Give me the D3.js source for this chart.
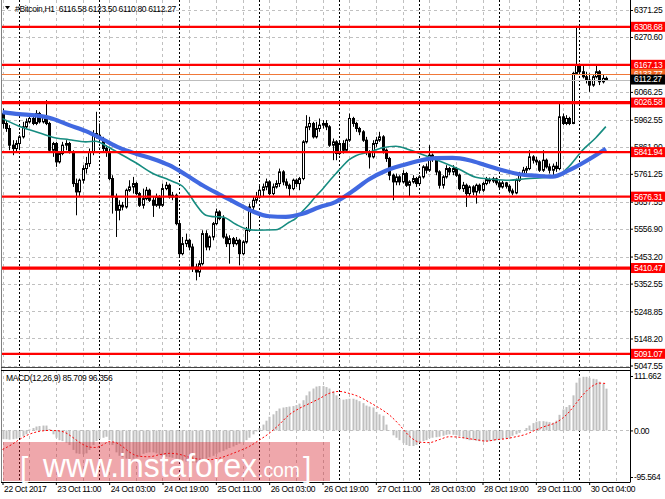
<!DOCTYPE html>
<html><head><meta charset="utf-8">
<script src="https://cdn.jsdelivr.net/npm/d3@7"></script>
<style>
html,body{margin:0;padding:0;background:#fff;}
svg{display:block;}
text{font-family:"Liberation Sans",Arial,sans-serif;}
.sm{font-size:8.5px;letter-spacing:-0.35px;}
</style></head><body>
<svg id="c" width="665" height="499"></svg>
<script>
// ---------------- DATA ----------------
const headerText = "#Bitcoin,H1  6116.58 6123.50 6110.80 6112.27";
const macdText = "MACD(12,26,9) 85.709 96.356";

const opens = [5986.0,5948.7,5930.0,5867.9,5855.4,5874.1,5898.9,5936.2,5954.9,5967.3,
5948.7,5986.0,5954.9,5973.5,5948.7,5849.2,5874.1,5805.7,5836.8,5867.9,
5874.1,5843.0,5725.0,5693.9,5737.4,5780.9,5799.5,5843.0,5911.4,5905.2,
5892.7,5855.4,5843.0,5743.6,5675.2,5625.5,5644.2,5637.9,5700.1,5712.5,
5725.0,5687.7,5644.2,5669.0,5700.1,5662.8,5644.2,5675.2,5644.2,5706.3,
5718.7,5675.2,5681.5,5575.8,5464.0,5501.2,5513.7,5488.8,5414.2,5395.6,
5426.7,5538.6,5488.8,5526.1,5575.8,5619.3,5594.5,5526.1,5501.2,5519.9,
5501.2,5513.7,5464.0,5507.5,5551.0,5637.9,5662.8,5675.2,5700.1,5712.5,
5731.2,5687.7,5712.5,5725.0,5768.5,5731.2,5718.7,5706.3,5737.4,5725.0,
5743.6,5880.3,5936.2,5948.7,5898.9,5930.0,5942.5,5948.7,5936.2,5867.9,
5880.3,5836.8,5874.1,5849.2,5886.5,5967.3,5948.7,5930.0,5917.6,5886.5,
5843.0,5824.4,5874.1,5886.5,5898.9,5849.2,5818.2,5756.0,5731.2,5749.8,
5731.2,5762.2,5718.7,5731.2,5743.6,5725.0,5749.8,5787.1,5774.7,5830.6,
5818.2,5768.5,5718.7,5749.8,5780.9,5768.5,5780.9,5756.0,5706.3,5718.7,
5687.7,5712.5,5693.9,5718.7,5700.1,5725.0,5739.9,5734.9,5742.4,5727.5,
5712.5,5727.5,5715.0,5697.6,5690.2,5737.4,5762.2,5774.7,5780.9,5824.4,
5812.0,5805.7,5774.7,5812.0,5787.1,5774.7,5789.6,5780.9,5973.5,5948.7,
5967.3,5948.7,6135.1,6166.2,6141.3,6122.7,6110.2,6091.6,6122.7,6141.3,
6104.0,6116.58];
const highs = [6004.6,5961.1,5942.5,5886.5,5886.5,5905.2,5954.9,5967.3,5979.7,5973.5,
5998.4,5992.2,5979.7,6035.7,5954.9,5880.3,5880.3,5843.0,5880.3,5886.5,
5880.3,5849.2,5743.6,5743.6,5793.3,5824.4,5855.4,5923.8,5992.2,5948.7,
5898.9,5867.9,5855.4,5756.0,5687.7,5662.8,5656.6,5706.3,5737.4,5749.8,
5731.2,5693.9,5706.3,5712.5,5706.3,5675.2,5687.7,5681.5,5725.0,5731.2,
5725.0,5693.9,5687.7,5588.2,5526.1,5538.6,5519.9,5501.2,5426.7,5439.1,
5551.0,5551.0,5532.4,5582.0,5631.7,5625.5,5606.9,5538.6,5532.4,5526.1,
5526.1,5519.9,5513.7,5563.4,5650.4,5675.2,5693.9,5718.7,5725.0,5743.6,
5737.4,5725.0,5737.4,5780.9,5774.7,5743.6,5725.0,5743.6,5743.6,5749.8,
5886.5,5979.7,5973.5,5954.9,5954.9,5967.3,5961.1,5961.1,5942.5,5892.7,
5886.5,5886.5,5886.5,5892.7,5986.0,5973.5,5954.9,5936.2,5923.8,5898.9,
5849.2,5886.5,5898.9,5917.6,5905.2,5855.4,5824.4,5762.2,5762.2,5756.0,
5774.7,5768.5,5737.4,5756.0,5749.8,5756.0,5793.3,5799.5,5867.9,5836.8,
5824.4,5774.7,5756.0,5793.3,5787.1,5793.3,5787.1,5762.2,5731.2,5725.0,
5718.7,5718.7,5725.0,5725.0,5731.2,5749.8,5747.4,5749.8,5747.4,5734.9,
5734.9,5731.2,5722.5,5706.3,5743.6,5768.5,5787.1,5789.6,5849.2,5830.6,
5824.4,5812.0,5849.2,5818.2,5799.5,5799.5,5805.7,6023.2,5986.0,5979.7,
5973.5,6141.3,6312.0,6172.4,6166.2,6141.3,6135.1,6129.0,6166.2,6147.5,
6129.0,6123.50];
const lows = [5930.0,5917.6,5849.2,5830.6,5843.0,5849.2,5892.7,5930.0,5948.7,5942.5,
5942.5,5948.7,5948.7,5942.5,5843.0,5824.4,5787.1,5799.5,5830.6,5849.2,
5836.8,5712.5,5606.9,5675.2,5725.0,5762.2,5787.1,5830.6,5892.7,5880.3,
5843.0,5824.4,5737.4,5613.1,5526.1,5588.2,5625.5,5631.7,5693.9,5687.7,
5681.5,5637.9,5631.7,5662.8,5656.6,5600.7,5637.9,5631.7,5637.9,5700.1,
5669.0,5662.8,5569.6,5451.5,5457.8,5488.8,5476.4,5395.6,5364.5,5377.0,
5420.5,5476.4,5476.4,5513.7,5569.6,5588.2,5519.9,5488.8,5426.7,5488.8,
5495.0,5420.5,5457.8,5501.2,5544.8,5625.5,5650.4,5669.0,5675.2,5700.1,
5681.5,5681.5,5706.3,5712.5,5718.7,5706.3,5675.2,5700.1,5712.5,5700.1,
5737.4,5874.1,5923.8,5892.7,5892.7,5917.6,5930.0,5923.8,5861.7,5812.0,
5812.0,5830.6,5836.8,5843.0,5880.3,5936.2,5917.6,5905.2,5880.3,5830.6,
5780.9,5818.2,5861.7,5880.3,5836.8,5805.7,5737.4,5662.8,5718.7,5718.7,
5725.0,5712.5,5675.2,5725.0,5712.5,5718.7,5743.6,5762.2,5768.5,5805.7,
5756.0,5706.3,5706.3,5743.6,5756.0,5756.0,5749.8,5700.1,5693.9,5637.9,
5675.2,5681.5,5650.4,5687.7,5693.9,5718.7,5725.0,5727.5,5718.7,5702.6,
5706.3,5706.3,5690.2,5681.5,5685.2,5731.2,5756.0,5762.2,5774.7,5799.5,
5793.3,5768.5,5768.5,5780.9,5762.2,5756.0,5768.5,5774.7,5942.5,5942.5,
5942.5,5946.2,6128.9,6135.1,6116.5,6097.8,6066.7,6085.4,6116.5,6091.6,
6097.8,6110.80];
const closes = [5948.7,5930.0,5867.9,5855.4,5874.1,5898.9,5936.2,5954.9,5967.3,5948.7,
5986.0,5954.9,5973.5,5948.7,5849.2,5874.1,5805.7,5836.8,5867.9,5874.1,
5843.0,5725.0,5693.9,5737.4,5780.9,5799.5,5843.0,5911.4,5905.2,5892.7,
5855.4,5843.0,5743.6,5675.2,5625.5,5644.2,5637.9,5700.1,5712.5,5725.0,
5687.7,5644.2,5669.0,5700.1,5662.8,5644.2,5675.2,5644.2,5706.3,5718.7,
5675.2,5681.5,5575.8,5464.0,5501.2,5513.7,5488.8,5414.2,5395.6,5426.7,
5538.6,5488.8,5526.1,5575.8,5619.3,5594.5,5526.1,5501.2,5519.9,5501.2,
5513.7,5464.0,5507.5,5551.0,5637.9,5662.8,5675.2,5700.1,5712.5,5731.2,
5687.7,5712.5,5725.0,5768.5,5731.2,5718.7,5706.3,5737.4,5725.0,5743.6,
5880.3,5936.2,5948.7,5898.9,5930.0,5942.5,5948.7,5936.2,5867.9,5880.3,
5836.8,5874.1,5849.2,5886.5,5967.3,5948.7,5930.0,5917.6,5886.5,5843.0,
5824.4,5874.1,5886.5,5898.9,5849.2,5818.2,5756.0,5731.2,5749.8,5731.2,
5762.2,5718.7,5731.2,5743.6,5725.0,5749.8,5787.1,5774.7,5830.6,5818.2,
5768.5,5718.7,5749.8,5780.9,5768.5,5780.9,5756.0,5706.3,5718.7,5687.7,
5712.5,5693.9,5718.7,5700.1,5725.0,5739.9,5734.9,5742.4,5727.5,5712.5,
5727.5,5715.0,5697.6,5690.2,5737.4,5762.2,5774.7,5780.9,5824.4,5812.0,
5805.7,5774.7,5812.0,5787.1,5774.7,5789.6,5780.9,5973.5,5948.7,5967.3,
5948.7,6135.1,6166.2,6141.3,6122.7,6110.2,6091.6,6122.7,6141.3,6104.0,
6116.6,6112.27];

// moving averages: [bar index, price]
const blueMA = [[0,5990.9],[5,5983.5],[10,5978.6],[15,5966.7],[20,5942.5],[25,5920.1],[30,5890.3],
[35,5858.6],[40,5836.2],[45,5817.6],[50,5793.3],[55,5757.9],[60,5718.7],[65,5685.2],[70,5653.5],
[75,5621.8],[80,5603.2],[85,5601.3],[90,5612.5],[95,5636.7],[100,5657.2],[105,5696.4],[110,5741.1],
[115,5772.8],[120,5793.3],[125,5810.1],[130,5819.4],[135,5820.5],[140,5811.9],[145,5793.3],
[150,5774.7],[155,5759.8],[160,5754.2],[165,5750.5],[170,5774.7],[175,5808.2],[181,5854.8]];
const tealMA = [[0,5966.7],[5,5938.7],[10,5918.2],[15,5897.7],[20,5888.4],[25,5880.2],[28,5882.8],
[31,5866.0],[35,5838.0],[40,5802.6],[45,5763.5],[50,5738.5],[52,5728.0],[54,5715.0],[56,5685.2],
[58,5647.9],[61,5606.9],[63,5602.0],[66,5600.6],[70,5573.3],[73,5556.5],[76,5551.0],[82,5552.8],
[86,5580.8],[88,5595.7],[90,5621.8],[92,5647.9],[94,5677.7],[96,5703.8],[98,5733.7],[100,5761.6],
[102,5789.6],[104,5813.8],[106,5828.7],[110,5841.8],[114,5858.6],[118,5864.2],[122,5851.1],
[127,5828.7],[132,5804.5],[137,5778.4],[142,5748.5],[147,5741.1],[152,5737.4],[157,5743.0],
[162,5746.7],[166,5750.5],[170,5789.6],[174,5849.2],[178,5895.8],[181,5936.9]];

const macdHist = [-18,-18,-19,-18,-17,-15,-12,-8,2,5,8,9,10,10,
3,-8,-15,-20,-22,-25,-30,
-40,-47,-48,-49,-47,-40,-30,-22,-18,-15,-13,
-20,-30,-45,-52,-55,-58,-59,-58,-56,-54,
-48,-46,-45,-45,-47,-50,-53,-54,-55,-56,
-58,-60,-62,-64,-65,-66,-66,-65,-62,-58,
-55,-52,-48,-45,-42,-39,-36,-33,-30,-27,-24,-20,-15,-8,-2,
5,12,20,28,33,40,45,47,48,49,50,52,55,
62,72,80,86,90,91,91,89,86,80,72,65,
63,64,65,65,63,60,56,51,49,47,
38,33,30,12,-1,
-10,-15,-20,-26,-30,-32,-32,-30,-25,-22,-20,
-16,-15,-14,-13,-11,-9,-8,-9,-10,-12,
-16,-18,-20,-20,-21,-22,-23,-22,-22,-21,-20,-19,-18,-17,-16,
-11,-8,-5,0,5,10,15,18,19,19,18,17,16,
20,32,43,48,52,72,98,108,110,110,108,106,105,100,96,85.709];
const macdSignal = [[0,-39],[3,-28],[5,-19],[8,-8],[11,-2],[14,0],[17,-1],[19,-5],[21,-14],[23,-24],
[26,-34],[28,-35],[30,-30],[32,-23],[34,-25],[36,-33],[38,-44],[41,-53],[44,-54],[47,-50],[50,-47],
[53,-49],[56,-55],[59,-59],[62,-60],[65,-57],[68,-50],[71,-42],[74,-33],[77,-20],[80,-6],[83,12],
[86,32],[89,45],[92,55],[95,65],[98,76],[101,80],[104,76],[107,69],[110,58],[113,46],[116,32],
[119,12],[121,-4],[123,-17],[125,-24],[128,-25],[131,-19],[134,-13],[137,-14],[140,-17],[143,-20],
[145,-22],[148,-19],[151,-17],[154,-13],[157,-8],[160,1],[163,9],[166,16],[168,25],[170,38],
[172,55],[174,72],[176,86],[178,95],[179,97],[181,96.356]];

const priceTicks = [6371.25,6270.60,6169.95,6066.25,5962.55,5861.90,5761.25,5657.55,5556.90,5453.20,5352.55,5248.85,5148.20,5047.55];
const hiddenTickLabels = [6169.95];
const macdTicks = [111.662, 0, -95.564];
const macdTickLabels = ["111.662","0.00","-95.564"];
const levels = [6308.68,6167.13,6026.58,5841.94,5676.31,5410.47,5091.07];
const askPrice = 6133.77, bidPrice = 6112.27;
const timeLabels = ["22 Oct 2017","23 Oct 11:00","24 Oct 03:00","24 Oct 19:00","25 Oct 11:00","26 Oct 03:00",
"26 Oct 19:00","27 Oct 11:00","28 Oct 03:00","28 Oct 19:00","29 Oct 11:00","30 Oct 04:00"];
const timeLabelBars = [0,16,32,48,64,80,96,112,128,144,160,176];
const gridBars = d3.range(0,188,8);
const separatorBars = [5,29,53,77,101,125,149,173];

// ---------------- DRAW ----------------
const svg = d3.select("#c");
const PL=2, PR=630, MT=0, MB=368, ST=370, SB=482;
const x = d3.scaleLinear().domain([-0.15, 188.25]).range([PL, PR]);
const y = d3.scaleLinear().domain([5047.55, 6371.25]).range([365.5, 10]);
const ym = d3.scaleLinear().domain([-95.564, 111.662]).range([477, 376]);
const px = i => Math.round(x(i));

const defs = svg.append("defs");
defs.append("clipPath").attr("id","cm").append("rect").attr("x",PL).attr("y",MT).attr("width",PR-PL).attr("height",MB-MT);
defs.append("clipPath").attr("id","cs").append("rect").attr("x",PL).attr("y",ST).attr("width",PR-PL).attr("height",SB-ST);

const gMain = svg.append("g").attr("clip-path","url(#cm)");
const gSub = svg.append("g").attr("clip-path","url(#cs)");

// grids
[[gMain,MT,MB],[gSub,ST,SB]].forEach(([g,t,b])=>{
  g.selectAll(null).data(gridBars).enter().append("line")
   .attr("x1",d=>px(d)+0.5).attr("x2",d=>px(d)+0.5).attr("y1",t).attr("y2",b)
   .attr("stroke","#c0c0c0").attr("stroke-dasharray","3,3");
  g.selectAll(null).data(separatorBars).enter().append("line")
   .attr("x1",d=>px(d)+0.5).attr("x2",d=>px(d)+0.5).attr("y1",t).attr("y2",b)
   .attr("stroke","#000").attr("stroke-dasharray","2,2");
});
gMain.selectAll(null).data(priceTicks).enter().append("line")
  .attr("x1",PL).attr("x2",PR).attr("y1",d=>Math.round(y(d))+0.5).attr("y2",d=>Math.round(y(d))+0.5)
  .attr("stroke","#c0c0c0").attr("stroke-dasharray","3,3");

// candles
const idx = d3.range(closes.length);
gMain.selectAll(null).data(idx).enter().append("line")
  .attr("x1",i=>px(i)+0.5).attr("x2",i=>px(i)+0.5)
  .attr("y1",i=>y(highs[i])).attr("y2",i=>y(lows[i]))
  .attr("stroke","#000").attr("stroke-width",1);
gMain.selectAll(null).data(idx).enter().append("rect")
  .attr("x",i=>px(i)-0.5).attr("width",2)
  .attr("y",i=>y(Math.max(opens[i],closes[i])))
  .attr("height",i=>Math.max(0.8,Math.abs(y(opens[i])-y(closes[i]))))
  .attr("fill",i=>closes[i]>=opens[i]?"#fff":"#000")
  .attr("stroke","#000").attr("stroke-width",1);

// moving averages
const maLine = d3.line().x(d=>x(d[0])).y(d=>y(d[1])).curve(d3.curveMonotoneX);
gMain.append("path").attr("d",maLine(tealMA)).attr("fill","none").attr("stroke","#168c80").attr("stroke-width",1.6);
gMain.append("path").attr("d",maLine(blueMA)).attr("fill","none").attr("stroke","#4169e1").attr("stroke-width",4.2).attr("stroke-linejoin","round");

// bid / ask lines
gMain.append("line").attr("x1",PL).attr("x2",PR).attr("y1",Math.round(y(askPrice))+0.5).attr("y2",Math.round(y(askPrice))+0.5)
  .attr("stroke","#f07838").attr("stroke-width",1);
gMain.append("line").attr("x1",PL).attr("x2",PR).attr("y1",Math.round(y(bidPrice))+0.5).attr("y2",Math.round(y(bidPrice))+0.5)
  .attr("stroke","#bdbdbd").attr("stroke-width",1);

// horizontal levels
const thickLevels = new Set([6026.58,5410.47]);
gMain.selectAll(null).data(levels).enter().append("line")
  .attr("x1",PL).attr("x2",PR).attr("y1",d=>y(d)).attr("y2",d=>y(d))
  .attr("stroke","#ff0000").attr("stroke-width",d=>thickLevels.has(d)?3.2:2.2);

// MACD
const z0 = ym(0);
gSub.append("line").attr("x1",PL).attr("x2",PR).attr("y1",Math.round(z0)+0.5).attr("y2",Math.round(z0)+0.5)
  .attr("stroke","#c0c0c0").attr("stroke-dasharray","3,3");
gSub.selectAll(null).data(macdHist).enter().append("rect")
  .attr("x",(d,i)=>px(i)-0.5).attr("width",2)
  .attr("y",d=>Math.min(ym(d),z0)).attr("height",d=>Math.abs(ym(d)-z0))
  .attr("fill","#c0c0c0");
gSub.append("path").attr("d",d3.line().x(d=>x(d[0])).y(d=>ym(d[1])).curve(d3.curveMonotoneX)(macdSignal))
  .attr("fill","none").attr("stroke","#ff0000").attr("stroke-width",1).attr("stroke-dasharray","2,2");

// frames
svg.append("line").attr("x1",1.5).attr("x2",1.5).attr("y1",0).attr("y2",SB).attr("stroke","#808080");
svg.append("line").attr("x1",PR+0.5).attr("x2",PR+0.5).attr("y1",0).attr("y2",SB+0.5).attr("stroke","#000");
svg.append("line").attr("x1",1).attr("x2",PR).attr("y1",MB-0.5).attr("y2",MB-0.5).attr("stroke","#444");
svg.append("line").attr("x1",1).attr("x2",PR).attr("y1",ST+0.5).attr("y2",ST+0.5).attr("stroke","#000");
svg.append("line").attr("x1",1).attr("x2",PR).attr("y1",SB+0.5).attr("y2",SB+0.5).attr("stroke","#000");

// right price axis
const ay = svg.append("g").attr("class","sm").attr("transform",`translate(${PR},0)`)
  .call(d3.axisRight(y).tickValues(priceTicks).tickSize(3)
    .tickFormat(d=>hiddenTickLabels.includes(d)?"":d3.format(".2f")(d)));
ay.select(".domain").remove();
ay.selectAll("text").attr("x",4).attr("fill","#000").style("font-size","8.5px");
ay.selectAll("line").attr("stroke","#000");

// MACD axis
const am = svg.append("g").attr("class","sm").attr("transform",`translate(${PR},0)`)
  .call(d3.axisRight(ym).tickValues(macdTicks).tickSize(3).tickFormat((d,i)=>macdTickLabels[i]));
am.select(".domain").remove();
am.selectAll("text").attr("x",4).attr("fill","#000").style("font-size","8.5px");

// time axis
const ax = svg.append("g").attr("class","sm").attr("transform",`translate(0,${SB})`)
  .call(d3.axisBottom(x).tickValues(timeLabelBars).tickSize(3).tickFormat((d,i)=>timeLabels[i]));
ax.select(".domain").remove();
ax.selectAll("text").attr("text-anchor","start").attr("x",1).attr("y",4).attr("fill","#000").style("font-size","8.5px");

// price labels on the axis
const labG = svg.append("g").attr("class","sm");
function priceLabel(v, bg){
  const yy = y(v);
  labG.append("rect").attr("x",PR+1).attr("y",yy-5).attr("width",665-PR-1).attr("height",10).attr("fill",bg);
  labG.append("text").attr("x",PR+4).attr("y",yy).attr("dy","0.34em").attr("fill","#fff")
    .style("font-size","8.5px").text(d3.format(".2f")(v));
}
levels.forEach(v=>priceLabel(v,"#ff0000"));
priceLabel(askPrice,"#f26522");
priceLabel(bidPrice,"#000");

// header
svg.append("path").attr("d","M5,6 L10,6 L7.5,9.5 Z").attr("fill","#000");
svg.append("text").attr("class","sm").attr("x",15).attr("y",11.5).attr("fill","#000").style("font-size","8.5px").style("white-space","pre").attr("xml:space","preserve").text(headerText);
svg.append("text").attr("class","sm").attr("x",6).attr("y",381).attr("fill","#000").style("font-size","8.5px").text(macdText);

// watermark
const wm = svg.append("g");
wm.append("rect").attr("x",3).attr("y",442).attr("width",327).attr("height",39).attr("fill","rgba(214,34,44,0.4)");
wm.append("text").attr("x",20).attr("y",478).attr("fill","#fff").style("font-size","30px").text("[");
wm.append("text").attr("x",43).attr("y",477).attr("fill","#fff").style("font-size","34px")
  .attr("textLength",214).attr("lengthAdjust","spacingAndGlyphs").text("www.instaforex");
wm.append("text").attr("x",258).attr("y",477).attr("fill","#fff").style("font-size","20px")
  .attr("textLength",42).attr("lengthAdjust","spacingAndGlyphs").text(".com");
wm.append("text").attr("x",303).attr("y",478).attr("fill","#fff").style("font-size","30px").text("]");
</script>
</body></html>
